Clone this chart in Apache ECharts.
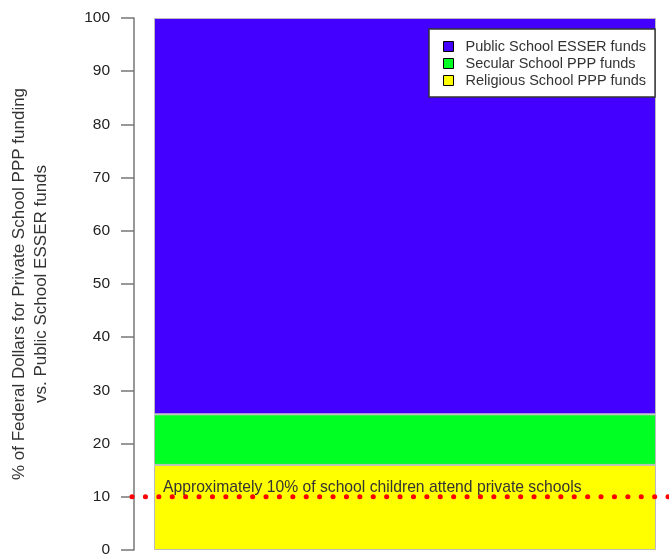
<!DOCTYPE html>
<html><head><meta charset="utf-8">
<script src="https://cdn.jsdelivr.net/npm/echarts@6/dist/echarts.min.js"></script>
<style>html,body{margin:0;padding:0;background:#fff}#c{width:669px;height:559px}</style>
</head><body><div id="c"></div>
<script>
var categories = ['All'];
var religious = [16.0];
var secular = [9.5];
var publicEsser = [74.5];
var refLevel = [10];
var yTicks = [0, 10, 20, 30, 40, 50, 60, 70, 80, 90, 100];
var seriesNames = ['Public School ESSER funds', 'Secular School PPP funds', 'Religious School PPP funds'];
var annotation = 'Approximately 10% of school children attend private schools';

var chart = echarts.init(document.getElementById('c'));
var font = 'Liberation Sans, Arial, sans-serif';
chart.setOption({
  animation: false,
  textStyle: {fontFamily: font},
  grid: [
    {left: 152, right: 13, top: 18, bottom: 9},
    {left: 132, right: 0, top: 18, bottom: 9}
  ],
  xAxis: [
    {type: 'category', data: categories, gridIndex: 0, show: false, boundaryGap: true},
    {type: 'value', gridIndex: 1, min: 0, max: 1, show: false}
  ],
  yAxis: [
    {type: 'value', gridIndex: 0, min: yTicks[0], max: yTicks[yTicks.length - 1], interval: 10,
     offset: 20,
     name: '% of Federal Dollars for Private School PPP funding\nvs. Public School ESSER funds',
     nameLocation: 'middle', nameGap: 82, nameRotate: 90,
     nameTextStyle: {fontSize: 17, color: '#333', lineHeight: 22, fontFamily: font},
     axisLine: {show: true, lineStyle: {color: '#777', width: 1.5}},
     axisTick: {show: true, length: 13, lineStyle: {color: '#777', width: 1.5}},
     axisLabel: {fontSize: 15.5, color: '#222', margin: 24, fontFamily: font},
     splitLine: {show: false}},
    {type: 'value', gridIndex: 1, min: 0, max: 100, show: false}
  ],
  legend: {
    orient: 'vertical', left: 429, top: 29,
    data: seriesNames,
    backgroundColor: '#fff', borderColor: '#333', borderWidth: 1.5,
    padding: [10, 9, 9, 14],
    itemWidth: 10, itemHeight: 10, itemGap: 2, icon: 'rect',
    itemStyle: {borderColor: '#000', borderWidth: 1},
    textStyle: {fontSize: 14.5, color: '#333', fontFamily: font, padding: [0, 0, 0, 7]}
  },
  series: [
    {name: seriesNames[2], type: 'bar', stack: 's', data: religious, barWidth: '100%',
     itemStyle: {color: '#ffff00', borderColor: '#bbb', borderWidth: 1}},
    {name: seriesNames[1], type: 'bar', stack: 's', data: secular, barWidth: '100%',
     itemStyle: {color: '#00ff22', borderColor: '#bbb', borderWidth: 1}},
    {name: seriesNames[0], type: 'bar', stack: 's', data: publicEsser, barWidth: '100%',
     itemStyle: {color: '#4400ff', borderColor: '#bbb', borderWidth: 1}},
    {name: 'ref', type: 'line', xAxisIndex: 1, yAxisIndex: 1, symbol: 'none',
     data: [[0, refLevel[0]], [1, refLevel[0]]],
     lineStyle: {color: '#ff0000', width: 5, type: [0.1, 13.3], cap: 'round'},
     z: 5}
  ],
  graphic: [
    {type: 'text', left: 163, top: 480, z: 10,
     style: {text: annotation, fontSize: 15.7, fill: '#333', fontFamily: font}}
  ]
});
</script></body></html>
